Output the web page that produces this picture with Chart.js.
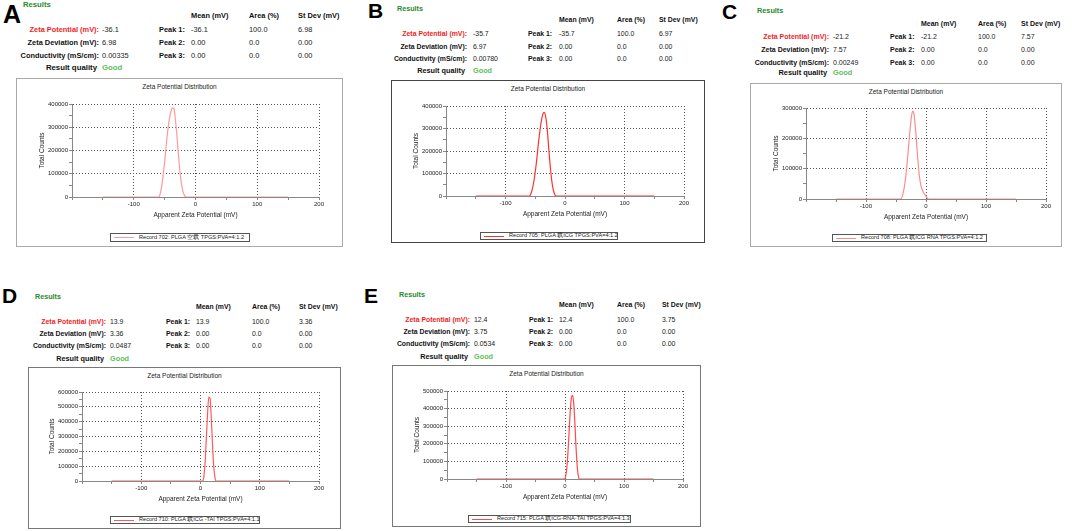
<!DOCTYPE html>
<html>
<head>
<meta charset="utf-8">
<script src="https://cdn.jsdelivr.net/npm/chart.js@4.4.1/dist/chart.umd.min.js"></script>
<style>
  body { margin: 0; background: #fff; font-family: "Liberation Sans", Arial, sans-serif; }
  #page { position: relative; width: 1072px; height: 531px; overflow: hidden; }
  .abs { position: absolute; white-space: nowrap; line-height: 1; }
  .letter { font-weight: bold; color: #000; }
  .res { font-weight: bold; color: #2b8a2b; }
  .lab { font-weight: bold; color: #111; }
  .red { color: #f01e1e; }
  .val { color: #222; }
  .good { font-weight: bold; color: #5cc05c; }
  .frame { position: absolute; border: 1px solid #999; box-sizing: border-box; }
  .ctitle { color: #222; }
  .leg { position: absolute; border: 1px solid #555; box-sizing: border-box; background: #fff; }
  .legline { position: absolute; height: 1px; }
  .legtxt { position: absolute; color: #222; white-space: nowrap; line-height: 1; }
</style>
</head>
<body>
<div id="page"></div>
<script>
// x positions (mV) and total counts
const zetaA = [-150, -60, -57, -54, -50, -46, -42, -39, -37, -35, -33, -30, -27, -24, -21, -18, -15, 150];
const countsA = [0, 0, 15000, 60000, 150000, 260000, 340000, 375000, 383000, 380000, 345000, 260000, 160000, 80000, 30000, 8000, 0, 0];

const zetaB = [-150, -60, -56, -52, -48, -44, -40, -37, -35, -33, -30, -27, -24, -21, -18, -15, 150];
const countsB = [0, 0, 20000, 70000, 150000, 250000, 330000, 365000, 372000, 360000, 300000, 200000, 110000, 45000, 12000, 0, 0];

const zetaC = [-150, -42, -38, -34, -30, -27, -24, -22, -20, -17, -14, -11, -8, -5, -2, 1, 4, 150];
const countsC = [0, 0, 20000, 70000, 150000, 220000, 275000, 290000, 280000, 220000, 140000, 75000, 40000, 25000, 15000, 6000, 0, 0];

const zetaD = [-150, 4, 6, 8, 10, 12, 14, 16, 18, 20, 22, 24, 26, 150];
const countsD = [0, 0, 40000, 140000, 300000, 460000, 565000, 560000, 440000, 270000, 120000, 35000, 0, 0];

const zetaE = [-150, -1, 1, 3, 5, 7, 9, 11, 13, 15, 17, 19, 21, 23, 25, 150];
const countsE = [0, 0, 15000, 60000, 150000, 270000, 390000, 465000, 475000, 420000, 300000, 160000, 60000, 10000, 0, 0];

const yMaxes = [400000, 400000, 300000, 600000, 500000];
const xTickLabels = ['-100', '0', '100', '200'];

const rowLabels = ['Zeta Potential (mV):', 'Zeta Deviation (mV):', 'Conductivity (mS/cm):'];
const colHeads = ['Mean (mV)', 'Area (%)', 'St Dev (mV)'];
const peakLabels = ['Peak 1:', 'Peak 2:', 'Peak 3:'];

const summaryA = ['-36.1', '6.98', '0.00335'];
const summaryB = ['-35.7', '6.97', '0.00780'];
const summaryC = ['-21.2', '7.57', '0.00249'];
const summaryD = ['13.9', '3.36', '0.0487'];
const summaryE = ['12.4', '3.75', '0.0534'];

const peak1A = ['-36.1', '100.0', '6.98'];
const peak1B = ['-35.7', '100.0', '6.97'];
const peak1C = ['-21.2', '100.0', '7.57'];
const peak1D = ['13.9', '100.0', '3.36'];
const peak1E = ['12.4', '100.0', '3.75'];
const peakEmpty = ['0.00', '0.0', '0.00'];

const legendNames = [
  'Record 702: PLGA 空载 TPGS:PVA=4:1.2',
  'Record 705: PLGA 载ICG TPGS:PVA=4:1.2',
  'Record 708: PLGA 载ICG RNA TPGS:PVA=4:1.2',
  'Record 710: PLGA 载ICG -TAI TPGS:PVA=4:1.1',
  'Record 715: PLGA 载ICG-RNA-TAI TPGS:PVA=4:1.3'
];

Chart.defaults.font.family = '"Liberation Sans", Arial, sans-serif';

const page = document.getElementById('page');

function put(text, x, yc, cls, size, right) {
  const d = document.createElement('div');
  d.className = 'abs ' + cls;
  d.textContent = text;
  d.style.left = x + 'px';
  d.style.top = yc + 'px';
  d.style.fontSize = size + 'px';
  d.style.transform = right ? 'translate(-100%, -50%)' : 'translate(0, -50%)';
  page.appendChild(d);
  return d;
}

// layout of each panel (pixels)
const panels = [
  { letter: 'A', lx: 3, ly: 2, lf: 25, resX: 23, resY: 5, hdrY: 16, rows: [30, 43, 56, 68], labR: 99, valX: 102, peakX: 159, cols: [191, 249, 298], fs: 7.4,
    frame: [16, 78, 343, 247], plot: [72, 104, 319, 197], titleY: 87, legend: [110, 233, 250, 242], fcol: '#aaa', lcol: '#ff9a9a',
    zeta: zetaA, counts: countsA, summary: summaryA, peak1: peak1A },
  { letter: 'B', lx: 368, ly: 0, lf: 21, resX: 397, resY: 9, hdrY: 20, rows: [34, 47, 59, 71], labR: 467, valX: 473, peakX: 528, cols: [559, 617, 659], fs: 6.9,
    frame: [391, 80, 705, 243], plot: [446, 106, 684, 196], titleY: 89, legend: [480, 232, 618, 240], fcol: '#444', lcol: '#ff3030',
    zeta: zetaB, counts: countsB, summary: summaryB, peak1: peak1B },
  { letter: 'C', lx: 722, ly: 1, lf: 21, resX: 757, resY: 11, hdrY: 23, rows: [36, 49, 62, 73], labR: 829, valX: 833, peakX: 890, cols: [921, 978, 1021], fs: 7,
    frame: [750, 83, 1062, 247], plot: [806, 108, 1046, 199], titleY: 92, legend: [832, 234, 987, 242], fcol: '#aaa', lcol: '#ff8c8c',
    zeta: zetaC, counts: countsC, summary: summaryC, peak1: peak1C },
  { letter: 'D', lx: 2, ly: 285, lf: 21, resX: 35, resY: 297, hdrY: 307, rows: [322, 334, 346, 359], labR: 106, valX: 110, peakX: 166, cols: [196, 252, 299], fs: 6.9,
    frame: [28, 367, 341, 529], plot: [82, 392, 319, 481], titleY: 376, legend: [110, 516, 260, 524], fcol: '#777', lcol: '#ff5a5a',
    zeta: zetaD, counts: countsD, summary: summaryD, peak1: peak1D },
  { letter: 'E', lx: 364, ly: 285, lf: 21, resX: 399, resY: 295, hdrY: 305, rows: [320, 332, 344, 357], labR: 470, valX: 474, peakX: 529, cols: [559, 617, 662], fs: 6.9,
    frame: [392, 365, 701, 527], plot: [447, 391, 683, 479], titleY: 374, legend: [468, 515, 631, 523], fcol: '#777', lcol: '#ff4a4a',
    zeta: zetaE, counts: countsE, summary: summaryE, peak1: peak1E }
];

panels.forEach((p, i) => {
  // panel letter
  const L = document.createElement('div');
  L.className = 'abs letter';
  L.textContent = p.letter;
  L.style.left = p.lx + 'px';
  L.style.top = p.ly + 'px';
  L.style.fontSize = p.lf + 'px';
  page.appendChild(L);

  // results table
  put('Results', p.resX, p.resY, 'res', p.fs + 0.3);
  colHeads.forEach((h, j) => put(h, p.cols[j], p.hdrY, 'lab', p.fs));
  rowLabels.forEach((t, j) => {
    put(t, p.labR, p.rows[j], j === 0 ? 'lab red' : 'lab', p.fs, true);
    put(p.summary[j], p.valX, p.rows[j], j === 0 ? 'val red' : 'val', p.fs);
  });
  put('Result quality', p.labR - 2, p.rows[3], 'lab', p.fs + 0.4, true);
  put('Good', p.valX, p.rows[3], 'good', p.fs + 0.4);
  peakLabels.forEach((t, j) => {
    put(t, p.peakX, p.rows[j], 'lab', p.fs);
    const vals = j === 0 ? p.peak1 : peakEmpty;
    vals.forEach((v, k) => put(v, p.cols[k], p.rows[j], 'val', p.fs));
  });

  // chart frame
  const [fl, ft, fr, fb] = p.frame;
  const [pl, pt, pr, pb] = p.plot;
  const F = document.createElement('div');
  F.className = 'frame';
  F.style.left = fl + 'px'; F.style.top = ft + 'px';
  F.style.width = (fr - fl) + 'px'; F.style.height = (fb - ft) + 'px';
  F.style.borderColor = p.fcol;
  if (p.fcol === '#444') F.style.borderWidth = '1.5px';
  page.appendChild(F);

  const T = put('Zeta Potential Distribution', (fl + fr) / 2, p.titleY, 'ctitle', 6.5);
  T.style.transform = 'translate(-50%, -50%)';

  const wrap = document.createElement('div');
  wrap.style.position = 'absolute';
  wrap.style.left = fl + 'px'; wrap.style.top = ft + 'px';
  wrap.style.width = (fr - fl) + 'px'; wrap.style.height = (fb - ft) + 'px';
  const cv = document.createElement('canvas');
  wrap.appendChild(cv);
  page.appendChild(wrap);

  const YW = 50, XH = 24;
  const ymax = yMaxes[i];
  new Chart(cv, {
    type: 'line',
    data: {
      datasets: [{
        data: p.zeta.map((x, k) => ({ x: x, y: p.counts[k] })),
        borderColor: p.lcol,
        borderWidth: 1.2,
        pointRadius: 0,
        cubicInterpolationMode: 'monotone',
        fill: false
      }]
    },
    options: {
      responsive: true,
      maintainAspectRatio: false,
      animation: false,
      events: [],
      layout: { padding: { left: pl - fl - YW, right: fr - pr, top: pt - ft, bottom: fb - pb - XH } },
      plugins: { legend: { display: false }, tooltip: { enabled: false } },
      scales: {
        x: {
          type: 'linear', min: -200, max: 200,
          afterFit: s => { s.height = XH; },
          ticks: {
            stepSize: 50, autoSkip: false, maxRotation: 0, padding: 1, color: '#222', font: { size: 6 },
            callback: v => xTickLabels.includes(String(v)) ? String(v) : ''
          },
          grid: {
            color: c => (c.tick && c.tick.value % 100 === 0 && c.tick.value > -200) ? '#555' : 'transparent',
            tickColor: '#888', tickLength: 3, lineWidth: 1
          },
          border: { color: '#888', dash: [1, 2] },
          title: { display: true, text: 'Apparent Zeta Potential (mV)', color: '#222', font: { size: 6.5 }, padding: { top: 0, bottom: 2 } }
        },
        y: {
          min: 0, max: ymax,
          afterFit: s => { s.width = YW; },
          ticks: {
            stepSize: 50000, autoSkip: false, padding: 1, color: '#222', font: { size: 6 },
            callback: v => v % 100000 === 0 ? String(v) : ''
          },
          grid: {
            color: c => (c.tick && c.tick.value % 100000 === 0 && c.tick.value > 0) ? '#555' : 'transparent',
            tickColor: '#888', tickLength: 3, lineWidth: 1
          },
          border: { color: '#888', dash: [1, 2] },
          title: { display: true, text: 'Total Counts', color: '#222', font: { size: 6.5 }, padding: { top: 16, bottom: 0 } }
        }
      }
    }
  });

  // legend box
  const [gl, gt, gr, gb] = p.legend;
  const G = document.createElement('div');
  G.className = 'leg';
  G.style.left = gl + 'px'; G.style.top = gt + 'px';
  G.style.width = (gr - gl) + 'px'; G.style.height = (gb - gt) + 'px';
  const ln = document.createElement('div');
  ln.className = 'legline';
  ln.style.left = '3px'; ln.style.width = '20px';
  ln.style.top = Math.round((gb - gt) / 2 - 1.5) + 'px';
  ln.style.background = p.lcol;
  G.appendChild(ln);
  const tx = document.createElement('div');
  tx.className = 'legtxt';
  tx.textContent = legendNames[i];
  tx.style.left = '28px';
  tx.style.top = ((gb - gt) / 2 - 1) + 'px';
  tx.style.fontSize = '5.6px';
  tx.style.transform = 'translateY(-50%)';
  G.appendChild(tx);
  page.appendChild(G);
});
</script>
</body>
</html>
